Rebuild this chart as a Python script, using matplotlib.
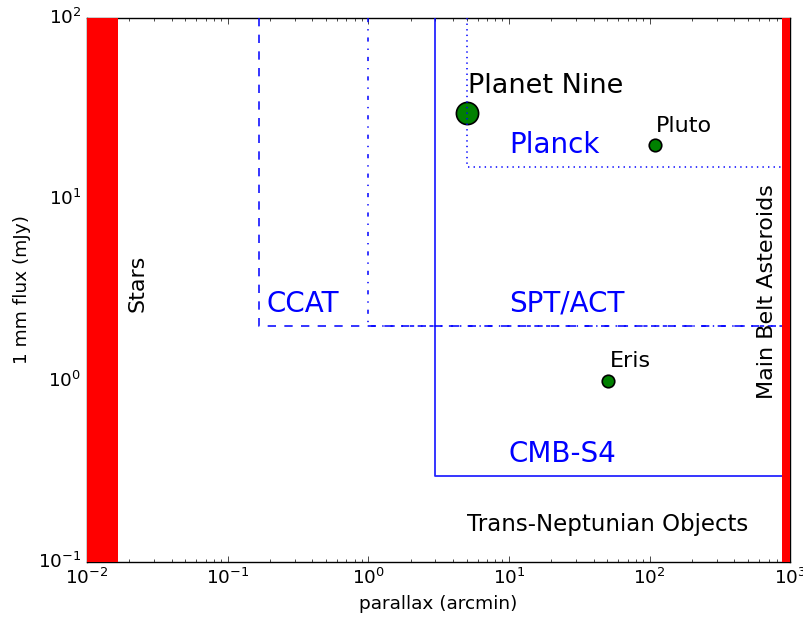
import matplotlib
matplotlib.use('Agg')
import matplotlib.pyplot as plt

# survey limits: (min parallax in arcmin, min 1 mm flux in mJy)
survey_names = ['CCAT', 'SPT/ACT', 'CMB-S4', 'Planck']
survey_parallax = [1.0 / 6, 1.0, 3.0, 5.0]
survey_flux = [2.0, 2.0, 0.3, 15.0]
survey_styles = ['--', '-.', '-', ':']

# bodies
body_names = ['Planet Nine', 'Pluto', 'Eris']
body_parallax = [5.0, 110.0, 51.0]
body_flux = [30.0, 20.0, 1.0]
body_sizes = [16, 9, 9]

# excluded regions
stars_max = 1.0 / 60
asteroids_min = 870.0

xmin, xmax = 1e-2, 1e3
ymin, ymax = 1e-1, 1e2


def planet_nine_plot():
    plt.style.use('classic')
    plt.rcParams['font.size'] = 13.3
    fig = plt.figure(figsize=(8.04, 6.17), dpi=100)
    ax = fig.add_axes([0.108, 0.089, 0.875, 0.882])
    ax.set_xscale('log')
    ax.set_yscale('log')

    for px, fl, ls in zip(survey_parallax, survey_flux, survey_styles):
        ax.plot([px, px, xmax], [ymax, fl, fl], ls, color='blue',
                alpha=0.85, lw=1.3, zorder=3)

    ax.axvspan(xmin, stars_max, color='red', lw=0, zorder=4)
    ax.axvspan(asteroids_min, xmax, color='red', lw=0, zorder=4)

    for name, px, fl, ms in zip(body_names, body_parallax, body_flux,
                                body_sizes):
        ax.plot(px, fl, 'o', color='green', markersize=ms,
                markeredgecolor='black', markeredgewidth=1.2, zorder=2)

    ax.text(5.1, 38.5, 'Planet Nine', fontsize=19.5)
    ax.text(110, 23.6, 'Pluto', fontsize=16)
    ax.text(52, 1.19, 'Eris', fontsize=16)

    ax.text(10, 18.0, 'Planck', fontsize=20, color='blue')
    ax.text(0.19, 2.4, 'CCAT', fontsize=20, color='blue')
    ax.text(10, 2.4, 'SPT/ACT', fontsize=20, color='blue')
    ax.text(10, 0.355, 'CMB-S4', fontsize=20, color='blue')

    ax.text(5, 0.148, 'Trans-Neptunian Objects', fontsize=16.5)
    ax.text(0.023, 3.45, 'Stars', fontsize=16, rotation=90,
            ha='center', va='center')
    ax.text(686, 3.1, 'Main Belt Asteroids', fontsize=16, rotation=90,
            ha='center', va='center')

    ax.set_xlim(xmin, xmax)
    ax.set_ylim(ymin, ymax)
    ax.set_xlabel('parallax (arcmin)')
    ax.set_ylabel('1 mm flux (mJy)')
    fig.savefig('out.png', dpi=100)


def main():
    planet_nine_plot()


if __name__ == '__main__':
    main()
